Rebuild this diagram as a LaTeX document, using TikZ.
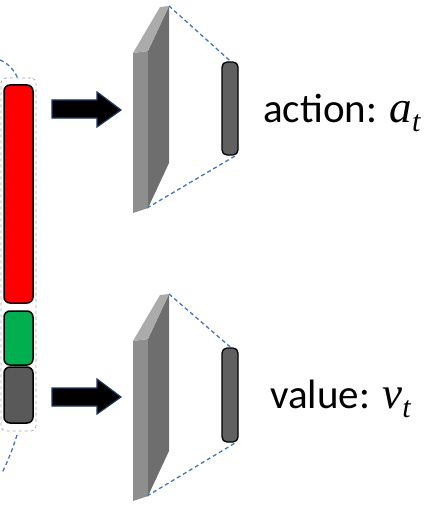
\documentclass[tikz,border=0pt]{standalone}
\usepackage{fontspec}
\setmainfont{Carlito}
\newfontfamily\varfont{Liberation Serif}
\newcommand{\myvar}[2]{{\fontsize{45}{48}\selectfont\varfont\itshape #1}\raisebox{-0.22em}{\fontsize{30}{32}\selectfont\varfont\itshape #2}}
\definecolor{dashblue}{HTML}{4472C4}
\definecolor{arrowedge}{HTML}{203864}
\definecolor{barred}{HTML}{FF0000}
\definecolor{bargreen}{HTML}{00B050}
\definecolor{bargray}{HTML}{595959}
\definecolor{outgray}{HTML}{606060}
\definecolor{slabfront}{HTML}{8E8E8E}
\definecolor{slabside}{HTML}{6E6E6E}
\definecolor{slabtop}{HTML}{ABABAB}
\begin{document}
\begin{tikzpicture}[x=1pt,y=-1pt,
  bar/.style={draw=black, line width=1.5pt, rounded corners=6pt, inner sep=0pt, minimum width=29pt},
  outbar/.style={draw=black, line width=1.3pt, rounded corners=5pt, inner sep=0pt, minimum width=16pt, fill=outgray},
  blueline/.style={draw=dashblue, dash pattern=on 4pt off 3pt, line width=1.3pt},
  bigarrow/.style={fill=black, draw=arrowedge, line width=1.2pt, line join=miter},
  lbl/.style={anchor=base west, inner sep=0pt, font=\fontsize{41}{46}\selectfont},
  slab/.pic={
    \fill[slabfront] (133,53) -- (148,51) -- (148,208) -- (133,213) -- cycle;
    \fill[slabside] (148,51) -- (169,6) -- (169,163) -- (148,208) -- cycle;
    \fill[slabtop] (133,53) -- (160,7) -- (169,6) -- (148,51) -- cycle;
    \coordinate (-tr) at (169,6);
    \coordinate (-bl) at (147,208);
  }]
\useasboundingbox (0,0) rectangle (439,508);

% left stack
\node[draw=gray!70, dashed, line width=0.7pt, rounded corners=5pt, minimum width=35pt, minimum height=353pt, inner sep=0pt] (stack) at (18.5,254.5) {};
\node[bar, fill=barred, minimum height=218pt] (red) at (18.5,194) {};
\node[bar, fill=bargreen, minimum height=54pt] (green) at (18.5,338) {};
\node[bar, fill=bargray, minimum height=56pt] (gray) at (18.5,395) {};

% blue dashed arcs
\draw[blueline] (0,60) .. controls (8,63) and (15,71) .. (18,79);
\draw[blueline] (17,435) .. controls (13,448) and (8,461) .. (2,473);

% arrows
\draw[bigarrow] (52,100) -- (97,100) -- (97,92) -- (121,110) -- (97,127) -- (97,118) -- (52,118) -- cycle;
\draw[bigarrow] (52,388) -- (97,388) -- (97,379) -- (121,397) -- (97,414) -- (97,406) -- (52,406) -- cycle;

% slabs
\pic (s1) at (0,0) {slab};
\pic (s2) at (0,288) {slab};

% output bars
\node[outbar, minimum height=93pt] (b1) at (230,108.5) {};
\node[outbar, minimum height=94pt] (b2) at (230,395) {};

\draw[blueline] (s1-tr) -- ([xshift=-8pt]b1.north east);
\draw[blueline] (s1-bl) -- ([xshift=-3pt]b1.south east);
\draw[blueline] (s2-tr) -- ([xshift=-8pt]b2.north east);
\draw[blueline] (s2-bl) -- ([xshift=-3pt]b2.south east);

% labels
\node[lbl] (act) at (263,122) {action: \myvar{a}{t}};
\node[lbl] (val) at (270,408) {value: \myvar{v}{t}};
\end{tikzpicture}
\end{document}
